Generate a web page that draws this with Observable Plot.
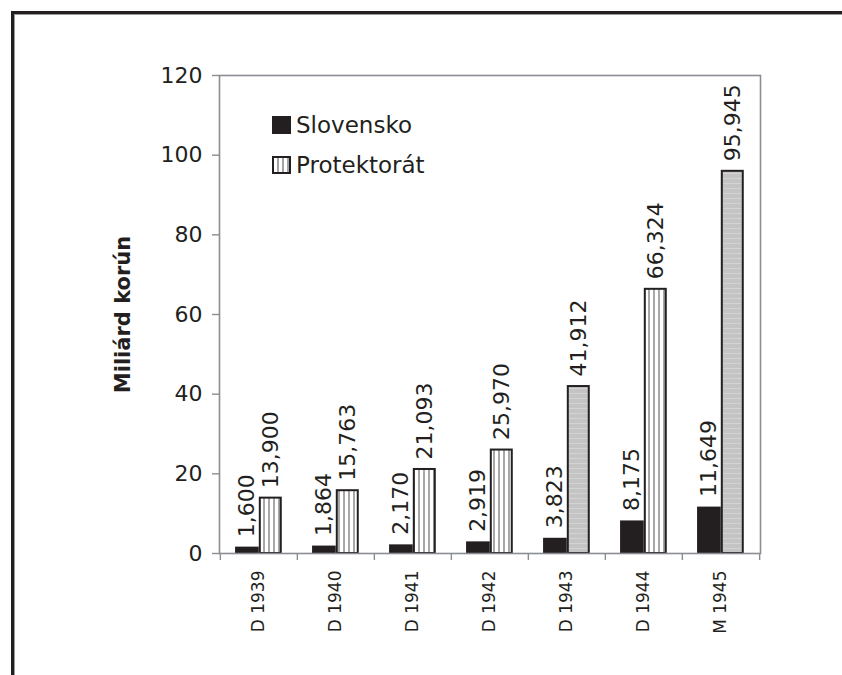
<!DOCTYPE html>
<html>
<head>
<meta charset="utf-8">
<script src="https://cdn.jsdelivr.net/npm/d3@7"></script>
<script src="https://cdn.jsdelivr.net/npm/@observablehq/plot@0.6"></script>
<style>
  html, body { margin: 0; padding: 0; background: #fff; }
  #wrap { position: relative; width: 842px; height: 675px; overflow: hidden; font-family: "DejaVu Sans", sans-serif; color: #231f20; }
  #outer { position: absolute; left: 11px; top: 11px; width: 900px; height: 800px; border-left: 3px solid #231f20; border-top: 3px solid #231f20; box-shadow: inset 1px 1px 0 #9a9a9a; pointer-events: none; }
  #legend { position: absolute; left: 272px; top: 105px; font-size: 23px; line-height: 40px; }
  .item { display: flex; align-items: center; height: 40px; }
  .sw { width: 19px; height: 18px; box-sizing: border-box; margin-right: 5px; }
  .sw.s { background: #231f20; }
  .sw.p { border: 2px solid #231f20; background: repeating-linear-gradient(90deg, #fff 0 3px, #a3a3a3 3px 5px); }
</style>
</head>
<body>
<svg width="0" height="0" style="position:absolute">
  <defs>
    <pattern id="vstripes" patternUnits="userSpaceOnUse" width="5" height="10">
      <rect width="5" height="10" fill="#ffffff"></rect>
      <rect x="3" width="2" height="10" fill="#a8a8a8"></rect>
    </pattern>
    <pattern id="hgray" patternUnits="userSpaceOnUse" width="10" height="5">
      <rect width="10" height="5" fill="#c4c4c4"></rect>
      <rect y="3" width="10" height="1" fill="#d3d3d3"></rect>
    </pattern>
  </defs>
</svg>
<div id="wrap">
  <div id="chart"></div>
  <div id="outer"></div>
  <div id="legend">
    <div class="item"><div class="sw s"></div><span>Slovensko</span></div>
    <div class="item"><div class="sw p"></div><span>Protektorát</span></div>
  </div>
</div>
<script>
// ---- data ----
const categories = ["D 1939", "D 1940", "D 1941", "D 1942", "D 1943", "D 1944", "M 1945"];
const slovensko = [1.600, 1.864, 2.170, 2.919, 3.823, 8.175, 11.649];
const protektorat = [13.900, 15.763, 21.093, 25.970, 41.912, 66.324, 95.945];
const seriesNames = ["Slovensko", "Protektorát"];
const yTicks = [0, 20, 40, 60, 80, 100, 120];
const yLabel = "Miliárd korún";

// rows for the library
const sData = categories.map((c, i) => ({cat: c, series: seriesNames[0], value: slovensko[i]}));
const pData = categories.map((c, i) => ({cat: c, series: seriesNames[1], value: protektorat[i]}));

// styling (not data): in the scan these two bars print as solid grey
const greyBars = new Set(["D 1943", "M 1945"]);

const W = 842, H = 675;
const mL = 219, mR = 82, mT = 75, mB = 122;
const bw = (W - mL - mR) / categories.length;   // band width
const ink = "#231f20", grid = "#8a8d91";
const fmt = v => d3.format(".3f")(v).replace(".", ",");

// bar geometry as fractions of the band
const sL = bw * 0.195, sR = bw - bw * 0.505;
const pL = bw * 0.515, pR = bw - bw * 0.79;
const sCenter = (sL + (bw - sR)) / 2 - bw / 2;
const pCenter = (pL + (bw - pR)) / 2 - bw / 2;

const plot = Plot.plot({
  width: W, height: H,
  marginLeft: mL, marginRight: mR, marginTop: mT, marginBottom: mB,
  style: {fontFamily: "DejaVu Sans, sans-serif", fontSize: "22px", color: ink, background: "transparent"},
  x: {type: "band", domain: categories, padding: 0, label: null},
  y: {domain: [0, 120], label: null},
  color: {type: "identity"},
  marks: [
    Plot.barY(sData, {x: "cat", y: "value", fill: ink, insetLeft: sL, insetRight: sR}),
    Plot.barY(pData, {x: "cat", y: "value", fill: d => greyBars.has(d.cat) ? "url(#hgray)" : "url(#vstripes)",
      stroke: ink, strokeWidth: 2, insetLeft: pL, insetRight: pR}),
    Plot.frame({stroke: grid, strokeWidth: 1.6}),
    Plot.axisY({ticks: yTicks, tickSize: 7, tickPadding: 10, stroke: grid, strokeWidth: 1.4, fill: ink, fontSize: 22, label: null}),
    Plot.axisX({tickSize: 0, tickPadding: 17, tickRotate: -90, fill: ink, fontSize: 17, label: null}),
    Plot.axisX({tickSize: 7, text: null, dx: -bw / 2, stroke: grid, strokeWidth: 1.4, label: null}),
    Plot.axisX({ticks: [categories[categories.length - 1]], tickSize: 7, text: null, dx: bw / 2, stroke: grid, strokeWidth: 1.4, label: null}),
    Plot.text(sData, {x: "cat", y: "value", text: d => fmt(d.value), rotate: -90, textAnchor: "start", dx: sCenter, dy: -10, fill: ink, fontSize: 22}),
    Plot.text(pData, {x: "cat", y: "value", text: d => fmt(d.value), rotate: -90, textAnchor: "start", dx: pCenter, dy: -10, fill: ink, fontSize: 22}),
    Plot.text([yLabel], {frameAnchor: "left", textAnchor: "middle", dx: -96, rotate: -90, text: d => d, fontWeight: "bold", fontSize: 21, fill: ink})
  ]
});
document.getElementById("chart").appendChild(plot);
</script>
</body>
</html>
